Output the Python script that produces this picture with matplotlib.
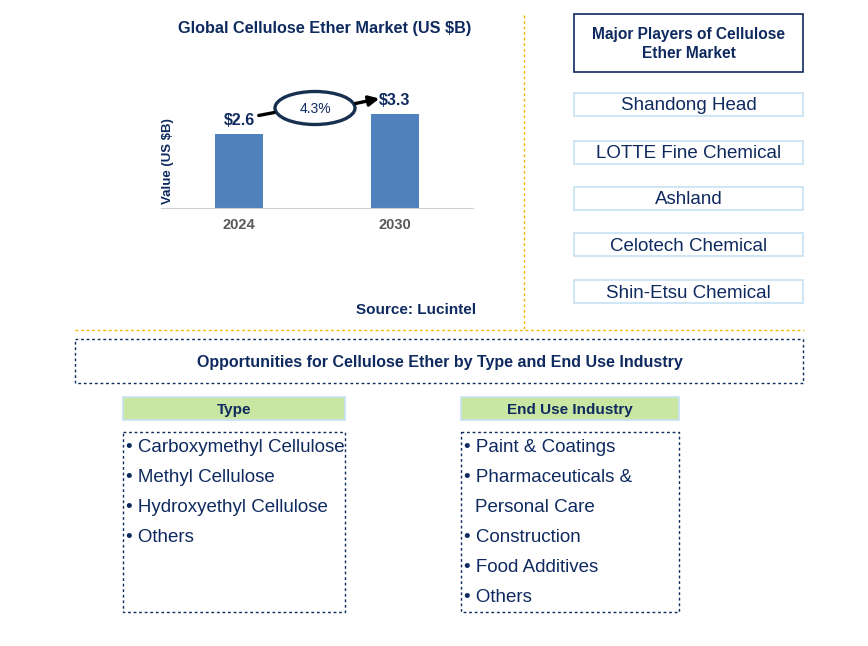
import matplotlib
matplotlib.use('Agg')
import matplotlib.pyplot as plt
from matplotlib.patches import Rectangle, Ellipse

plt.rcParams['font.family'] = ['Liberation Sans', 'DejaVu Sans']

# ---- data ----
years = ['2024', '2030']
values = [2.6, 3.3]
value_labels = ['$2.6', '$3.3']
cagr = '4.3%'
players = ['Shandong Head', 'LOTTE Fine Chemical', 'Ashland',
           'Celotech Chemical', 'Shin-Etsu Chemical']
types = ['Carboxymethyl Cellulose', 'Methyl Cellulose',
         'Hydroxyethyl Cellulose', 'Others']
end_uses = ['Paint & Coatings', 'Pharmaceuticals &\nPersonal Care',
            'Construction', 'Food Additives', 'Others']

NAVY = '#0f2a5f'
BAR = '#4f81bd'
ORANGE = '#f5b800'
LIGHTBLUE = '#c6e2f2'
GREEN = '#c9e6a3'

W, H = 868, 646
fig = plt.figure(figsize=(W / 100, H / 100), dpi=100)

# background canvas in pixel coords
bg = fig.add_axes([0, 0, 1, 1])
bg.set_xlim(0, W)
bg.set_ylim(H, 0)
bg.axis('off')


def fax(x0, y0, x1, y1):
    # pixel box -> figure fraction rect
    return [x0 / W, 1 - y1 / H, (x1 - x0) / W, (y1 - y0) / H]


# ---- bar chart ----
ax = fig.add_axes(fax(161, 60, 473, 208))
ax.patch.set_visible(False)
x = range(len(years))
ax.bar(x, values, width=0.31, color=BAR)
ax.set_xlim(-0.5, 1.5)
ax.set_ylim(0, 148 / 28.6)
ax.set_xticks(list(x))
ax.set_xticklabels(years, color='#595959', fontweight='bold', fontsize=10.5)
ax.tick_params(axis='x', length=0, pad=7)
ax.set_yticks([])
for s in ['top', 'right', 'left']:
    ax.spines[s].set_visible(False)
ax.spines['bottom'].set_color('#d0d0d0')
for xi, v, lab in zip(x, values, value_labels):
    ax.text(xi, v + 0.18, lab, ha='center', va='bottom', color=NAVY,
            fontweight='bold', fontsize=11.5)

bg.text(168, 161, 'Value (US $B)', ha='center', va='center', rotation=90,
        color=NAVY, fontweight='bold', fontsize=9.5)
bg.text(325, 28, 'Global Cellulose Ether Market (US $B)', ha='center', va='center',
        color=NAVY, fontweight='bold', fontsize=11.7)

# CAGR ellipse + arrow
bg.annotate('', xy=(277, 112), xytext=(256, 116),
            arrowprops=dict(arrowstyle='-', color='black', lw=2.4))
bg.annotate('', xy=(382, 98), xytext=(353, 104),
            arrowprops=dict(arrowstyle='-|>', color='black', lw=2.4, mutation_scale=15))
bg.add_patch(Ellipse((315, 108), 80, 33, fill=False, ec='#17304f', lw=2.4))
bg.text(315, 109, cagr, ha='center', va='center', color=NAVY, fontsize=10)

bg.text(416, 310, 'Source: Lucintel', ha='center', va='center', color=NAVY,
        fontweight='bold', fontsize=11)

# separators
bg.plot([524, 524], [15, 330], color=ORANGE, lw=1, ls=(0, (2, 2)))
bg.plot([75, 804], [330, 330], color=ORANGE, lw=1, ls=(0, (2, 2)))

# ---- major players ----
bg.add_patch(Rectangle((574, 14), 229, 58, fill=False, ec=NAVY, lw=1.2))
bg.text(688.5, 44, 'Major Players of Cellulose\nEther Market', ha='center', va='center',
        color=NAVY, fontweight='bold', fontsize=11.2, linespacing=1.4)
player_y = [104, 152, 198, 244.5, 291.5]
for py, name in zip(player_y, players):
    bg.add_patch(Rectangle((574, py - 11.5), 229, 23, fill=False, ec=LIGHTBLUE, lw=1.2))
    bg.text(688.5, py + 2, name, ha='center', va='center', color=NAVY, fontsize=13.5)

# ---- opportunities ----
bg.add_patch(Rectangle((75, 339), 728, 44, fill=False, ec=NAVY, lw=1, ls=(0, (2, 2))))
bg.text(440, 362, 'Opportunities for Cellulose Ether by Type and End Use Industry',
        ha='center', va='center', color=NAVY, fontweight='bold', fontsize=11.5)

for (x0, x1), head, items in [((123, 345), 'Type', types),
                              ((461, 679), 'End Use Industry', end_uses)]:
    bg.add_patch(Rectangle((x0, 397), x1 - x0, 23, fc=GREEN, ec=LIGHTBLUE, lw=1.2))
    bg.text((x0 + x1) / 2, 410, head, ha='center', va='center', color=NAVY,
            fontweight='bold', fontsize=11)
    bg.add_patch(Rectangle((x0, 432), x1 - x0, 180, fill=False, ec=NAVY, lw=1,
                           ls=(0, (2, 2))))
    y = 447
    for it in items:
        lines = it.split('\n')
        bg.text(x0 + 3, y, '• ' + lines[0], ha='left', va='center', color=NAVY,
                fontsize=13.5)
        y += 30
        for extra in lines[1:]:
            bg.text(x0 + 14, y, extra, ha='left', va='center', color=NAVY, fontsize=13.5)
            y += 30

fig.savefig('out.png', dpi=100)
